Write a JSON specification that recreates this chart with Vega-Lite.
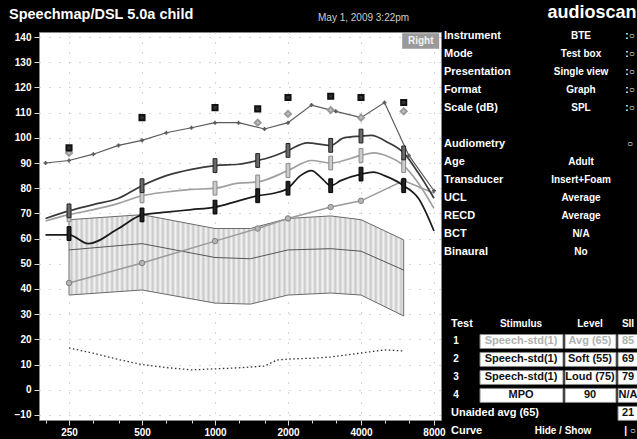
{
  "$schema": "https://vega.github.io/schema/vega-lite/v6.json",
  "background": "black",
  "padding": {"left": 8, "top": 4, "right": 0, "bottom": 0},
  "title": {"text": "audioscan", "anchor": "end", "offset": -30, "dx": -2, "baseline": "alphabetic", "fontSize": 18, "fontWeight": "bold", "color": "white", "font": "Liberation Sans"},
  "config": {"view": {"stroke": null}, "font": "Liberation Sans"},
  "spacing": 0,
  "bounds": "flush",
  "datasets": {
    "band": [
      {"f": 250, "db": 67.5, "db2": 37.6}, {"f": 500, "db": 69.5, "db2": 39.6}, {"f": 1000, "db": 64, "db2": 34.4},
      {"f": 1400, "db": 64, "db2": 34}, {"f": 2000, "db": 68, "db2": 37.6}, {"f": 3000, "db": 69, "db2": 38.4},
      {"f": 4000, "db": 67.5, "db2": 37.6}, {"f": 6000, "db": 59.5, "db2": 29.3}
    ],
    "curves": [
      {"curve": "MPO", "f": 200, "db": 90}, {"curve": "MPO", "f": 250, "db": 91}, {"curve": "MPO", "f": 315, "db": 93.5},
      {"curve": "MPO", "f": 400, "db": 97}, {"curve": "MPO", "f": 500, "db": 99}, {"curve": "MPO", "f": 630, "db": 102},
      {"curve": "MPO", "f": 800, "db": 104}, {"curve": "MPO", "f": 1000, "db": 106}, {"curve": "MPO", "f": 1250, "db": 106},
      {"curve": "MPO", "f": 1600, "db": 103.5}, {"curve": "MPO", "f": 2000, "db": 106}, {"curve": "MPO", "f": 2500, "db": 113},
      {"curve": "MPO", "f": 3150, "db": 110.5}, {"curve": "MPO", "f": 4000, "db": 108}, {"curve": "MPO", "f": 5000, "db": 114},
      {"curve": "MPO", "f": 6300, "db": 93}, {"curve": "MPO", "f": 8000, "db": 79},

      {"curve": "Loud", "f": 200, "db": 68}, {"curve": "Loud", "f": 250, "db": 71}, {"curve": "Loud", "f": 315, "db": 73.5},
      {"curve": "Loud", "f": 400, "db": 76}, {"curve": "Loud", "f": 500, "db": 81}, {"curve": "Loud", "f": 630, "db": 85},
      {"curve": "Loud", "f": 800, "db": 87.5}, {"curve": "Loud", "f": 1000, "db": 89}, {"curve": "Loud", "f": 1250, "db": 89.5},
      {"curve": "Loud", "f": 1500, "db": 91}, {"curve": "Loud", "f": 1700, "db": 92.4}, {"curve": "Loud", "f": 2000, "db": 95},
      {"curve": "Loud", "f": 2400, "db": 98}, {"curve": "Loud", "f": 3000, "db": 97}, {"curve": "Loud", "f": 3400, "db": 100},
      {"curve": "Loud", "f": 4000, "db": 100.7}, {"curve": "Loud", "f": 4400, "db": 101}, {"curve": "Loud", "f": 5200, "db": 98},
      {"curve": "Loud", "f": 6000, "db": 94}, {"curve": "Loud", "f": 6900, "db": 86}, {"curve": "Loud", "f": 8000, "db": 76},

      {"curve": "Avg", "f": 200, "db": 67}, {"curve": "Avg", "f": 250, "db": 69.5}, {"curve": "Avg", "f": 315, "db": 71.5},
      {"curve": "Avg", "f": 400, "db": 74}, {"curve": "Avg", "f": 500, "db": 77}, {"curve": "Avg", "f": 630, "db": 78.5},
      {"curve": "Avg", "f": 800, "db": 79.5}, {"curve": "Avg", "f": 1000, "db": 80}, {"curve": "Avg", "f": 1250, "db": 82},
      {"curve": "Avg", "f": 1500, "db": 82.5}, {"curve": "Avg", "f": 2000, "db": 87}, {"curve": "Avg", "f": 2500, "db": 91},
      {"curve": "Avg", "f": 3000, "db": 90}, {"curve": "Avg", "f": 4000, "db": 93}, {"curve": "Avg", "f": 4500, "db": 94},
      {"curve": "Avg", "f": 5200, "db": 92.5}, {"curve": "Avg", "f": 6000, "db": 89}, {"curve": "Avg", "f": 6900, "db": 82},
      {"curve": "Avg", "f": 8000, "db": 72},

      {"curve": "Soft", "f": 200, "db": 61.5}, {"curve": "Soft", "f": 250, "db": 61.5}, {"curve": "Soft", "f": 300, "db": 58},
      {"curve": "Soft", "f": 400, "db": 64}, {"curve": "Soft", "f": 500, "db": 69.4}, {"curve": "Soft", "f": 630, "db": 70.5},
      {"curve": "Soft", "f": 800, "db": 71.5}, {"curve": "Soft", "f": 1000, "db": 72.5}, {"curve": "Soft", "f": 1250, "db": 75},
      {"curve": "Soft", "f": 1500, "db": 77}, {"curve": "Soft", "f": 1750, "db": 78}, {"curve": "Soft", "f": 2000, "db": 80},
      {"curve": "Soft", "f": 2250, "db": 85}, {"curve": "Soft", "f": 2500, "db": 87}, {"curve": "Soft", "f": 2750, "db": 84},
      {"curve": "Soft", "f": 3000, "db": 81}, {"curve": "Soft", "f": 3300, "db": 83}, {"curve": "Soft", "f": 4000, "db": 85.6},
      {"curve": "Soft", "f": 4500, "db": 86.4}, {"curve": "Soft", "f": 5000, "db": 85}, {"curve": "Soft", "f": 6000, "db": 81},
      {"curve": "Soft", "f": 6900, "db": 76}, {"curve": "Soft", "f": 8000, "db": 63},

      {"curve": "Unaided", "f": 250, "db": 42.4}, {"curve": "Unaided", "f": 500, "db": 50.3}, {"curve": "Unaided", "f": 1000, "db": 59},
      {"curve": "Unaided", "f": 1500, "db": 64}, {"curve": "Unaided", "f": 2000, "db": 68}, {"curve": "Unaided", "f": 3000, "db": 72.5},
      {"curve": "Unaided", "f": 4000, "db": 75}, {"curve": "Unaided", "f": 6000, "db": 83}, {"curve": "Unaided", "f": 8000, "db": 78},

      {"curve": "Speech mid", "f": 250, "db": 55.5}, {"curve": "Speech mid", "f": 500, "db": 58}, {"curve": "Speech mid", "f": 1000, "db": 52.5},
      {"curve": "Speech mid", "f": 1400, "db": 52}, {"curve": "Speech mid", "f": 2000, "db": 55.5}, {"curve": "Speech mid", "f": 3000, "db": 56},
      {"curve": "Speech mid", "f": 4000, "db": 55}, {"curve": "Speech mid", "f": 6000, "db": 47.5},

      {"curve": "Threshold", "f": 250, "db": 16.6}, {"curve": "Threshold", "f": 315, "db": 14.5}, {"curve": "Threshold", "f": 400, "db": 12},
      {"curve": "Threshold", "f": 500, "db": 10}, {"curve": "Threshold", "f": 630, "db": 8.8}, {"curve": "Threshold", "f": 800, "db": 7.9},
      {"curve": "Threshold", "f": 1000, "db": 8.3}, {"curve": "Threshold", "f": 1250, "db": 8.7}, {"curve": "Threshold", "f": 1600, "db": 9.4},
      {"curve": "Threshold", "f": 1800, "db": 11.8}, {"curve": "Threshold", "f": 2000, "db": 12.2}, {"curve": "Threshold", "f": 2500, "db": 12.5},
      {"curve": "Threshold", "f": 3000, "db": 13}, {"curve": "Threshold", "f": 4000, "db": 14.6}, {"curve": "Threshold", "f": 5000, "db": 15.8},
      {"curve": "Threshold", "f": 6000, "db": 15.4}
    ],
    "targets": [
      {"curve": "Loud", "f": 250, "db": 71}, {"curve": "Loud", "f": 500, "db": 81}, {"curve": "Loud", "f": 1000, "db": 89}, {"curve": "Loud", "f": 1500, "db": 91},
      {"curve": "Loud", "f": 2000, "db": 95}, {"curve": "Loud", "f": 3000, "db": 97}, {"curve": "Loud", "f": 4000, "db": 100.7}, {"curve": "Loud", "f": 6000, "db": 94},
      {"curve": "Avg", "f": 250, "db": 69.5}, {"curve": "Avg", "f": 500, "db": 77}, {"curve": "Avg", "f": 1000, "db": 80}, {"curve": "Avg", "f": 1500, "db": 82.5},
      {"curve": "Avg", "f": 2000, "db": 87}, {"curve": "Avg", "f": 3000, "db": 90}, {"curve": "Avg", "f": 4000, "db": 93}, {"curve": "Avg", "f": 6000, "db": 89},
      {"curve": "Soft", "f": 250, "db": 62}, {"curve": "Soft", "f": 500, "db": 69.4}, {"curve": "Soft", "f": 1000, "db": 72.5}, {"curve": "Soft", "f": 1500, "db": 77},
      {"curve": "Soft", "f": 2000, "db": 80}, {"curve": "Soft", "f": 3000, "db": 81}, {"curve": "Soft", "f": 4000, "db": 85.6}, {"curve": "Soft", "f": 6000, "db": 81}
    ],
    "ucl": [
      {"kind": "UCL", "f": 250, "db": 96}, {"kind": "UCL", "f": 500, "db": 108}, {"kind": "UCL", "f": 1000, "db": 112}, {"kind": "UCL", "f": 1500, "db": 111.5},
      {"kind": "UCL", "f": 2000, "db": 116}, {"kind": "UCL", "f": 3000, "db": 116.5}, {"kind": "UCL", "f": 4000, "db": 116}, {"kind": "UCL", "f": 6000, "db": 114},
      {"kind": "MPO target", "f": 250, "db": 94}, {"kind": "MPO target", "f": 1500, "db": 106}, {"kind": "MPO target", "f": 2000, "db": 109.5},
      {"kind": "MPO target", "f": 3000, "db": 111}, {"kind": "MPO target", "f": 4000, "db": 108}, {"kind": "MPO target", "f": 6000, "db": 110.5}
    ],
    "ear": [{"ear": "Right", "f": 7050, "db": 138.4}],
    "panel": [
      {"r": 1, "c": 0, "t": "Instrument", "k": "txt"}, {"r": 1, "c": 1, "t": "BTE", "k": "txt"}, {"r": 1, "c": 2, "t": ":○", "k": "txt"},
      {"r": 2, "c": 0, "t": "Mode", "k": "txt"}, {"r": 2, "c": 1, "t": "Test box", "k": "txt"}, {"r": 2, "c": 2, "t": ":○", "k": "txt"},
      {"r": 3, "c": 0, "t": "Presentation", "k": "txt"}, {"r": 3, "c": 1, "t": "Single view", "k": "txt"}, {"r": 3, "c": 2, "t": ":○", "k": "txt"},
      {"r": 4, "c": 0, "t": "Format", "k": "txt"}, {"r": 4, "c": 1, "t": "Graph", "k": "txt"}, {"r": 4, "c": 2, "t": ":○", "k": "txt"},
      {"r": 5, "c": 0, "t": "Scale (dB)", "k": "txt"}, {"r": 5, "c": 1, "t": "SPL", "k": "txt"}, {"r": 5, "c": 2, "t": ":○", "k": "txt"},
      {"r": 7, "c": 0, "t": "Audiometry", "k": "txt"}, {"r": 7, "c": 2, "t": " ○", "k": "txt"},
      {"r": 8, "c": 0, "t": "Age", "k": "txt"}, {"r": 8, "c": 1, "t": "Adult", "k": "txt"},
      {"r": 9, "c": 0, "t": "Transducer", "k": "txt"}, {"r": 9, "c": 1, "t": "Insert+Foam", "k": "txt"},
      {"r": 10, "c": 0, "t": "UCL", "k": "txt"}, {"r": 10, "c": 1, "t": "Average", "k": "txt"},
      {"r": 11, "c": 0, "t": "RECD", "k": "txt"}, {"r": 11, "c": 1, "t": "Average", "k": "txt"},
      {"r": 12, "c": 0, "t": "BCT", "k": "txt"}, {"r": 12, "c": 1, "t": "N/A", "k": "txt"},
      {"r": 13, "c": 0, "t": "Binaural", "k": "txt"}, {"r": 13, "c": 1, "t": "No", "k": "txt"},
      {"r": 17, "c": 7, "t": "Test", "k": "txt"}, {"r": 17, "c": 4, "t": "Stimulus", "k": "txt"}, {"r": 17, "c": 5, "t": "Level", "k": "txt"}, {"r": 17, "c": 6, "t": "SII", "k": "txt"},
      {"r": 18, "c": 3, "t": "1", "k": "txt"}, {"r": 18, "c": 4, "t": "Speech-std(1)", "k": "off"}, {"r": 18, "c": 5, "t": "Avg (65)", "k": "off"}, {"r": 18, "c": 6, "t": "85", "k": "off"},
      {"r": 19, "c": 3, "t": "2", "k": "txt"}, {"r": 19, "c": 4, "t": "Speech-std(1)", "k": "cell"}, {"r": 19, "c": 5, "t": "Soft (55)", "k": "cell"}, {"r": 19, "c": 6, "t": "69", "k": "cell"},
      {"r": 20, "c": 3, "t": "3", "k": "txt"}, {"r": 20, "c": 4, "t": "Speech-std(1)", "k": "cell"}, {"r": 20, "c": 5, "t": "Loud (75)", "k": "cell"}, {"r": 20, "c": 6, "t": "79", "k": "cell"},
      {"r": 21, "c": 3, "t": "4", "k": "txt"}, {"r": 21, "c": 4, "t": "MPO", "k": "cell"}, {"r": 21, "c": 5, "t": "90", "k": "cell"}, {"r": 21, "c": 6, "t": "N/A", "k": "cell"},
      {"r": 22, "c": 7, "t": "Unaided avg (65)", "k": "txt"}, {"r": 22, "c": 6, "t": "21", "k": "cell"},
      {"r": 23, "c": 7, "t": "Curve", "k": "txt"}, {"r": 23, "c": 8, "t": "Hide / Show", "k": "txt"}, {"r": 23, "c": 2, "t": "| ○", "k": "txt"}
    ],
    "boxes": [
      {"r": 18, "c0": 9, "c1": 10}, {"r": 18, "c0": 11, "c1": 12}, {"r": 18, "c0": 13, "c1": 14},
      {"r": 19, "c0": 9, "c1": 10}, {"r": 19, "c0": 11, "c1": 12}, {"r": 19, "c0": 13, "c1": 14},
      {"r": 20, "c0": 9, "c1": 10}, {"r": 20, "c0": 11, "c1": 12}, {"r": 20, "c0": 13, "c1": 14},
      {"r": 21, "c0": 9, "c1": 10}, {"r": 21, "c0": 11, "c1": 12}, {"r": 21, "c0": 13, "c1": 14},
      {"r": 22, "c0": 13, "c1": 14}
    ]
  },
  "hconcat": [
    {
      "width": 402,
      "height": 388,
      "view": {"fill": "white", "stroke": "#888"},
      "title": {"text": "Speechmap/DSL 5.0a child", "anchor": "start", "frame": "group", "dx": -30, "offset": -1, "baseline": "alphabetic", "fontSize": 14.5, "fontWeight": "bold", "color": "white", "font": "Liberation Sans"},
      "encoding": {
        "x": {
          "field": "f", "type": "quantitative", "title": null,
          "scale": {"type": "log", "domain": [188, 8550], "nice": false},
          "axis": {
            "values": [200, 250, 315, 400, 500, 630, 800, 1000, 1250, 1600, 2000, 2500, 3150, 4000, 5000, 6300, 8000],
            "labelExpr": "indexof([250,500,1000,2000,4000,8000], datum.value) >= 0 ? format(datum.value, 'd') : ''",
            "labelOverlap": false, "labelFlush": false, "labelBound": false,
            "labelColor": "white", "labelFontSize": 10, "labelFontWeight": "bold", "labelFont": "Liberation Sans", "labelPadding": 2,
            "tickColor": "#dddddd",
            "tickSize": {"condition": {"test": "indexof([250,500,1000,2000,4000,8000], datum.value) >= 0", "value": 5}, "value": 3},
            "domain": false, "grid": true, "gridColor": "#aaaaaa", "gridDash": [1, 9],
            "gridOpacity": {"condition": {"test": "indexof([250,500,1000,2000,4000,8000], datum.value) >= 0", "value": 1}, "value": 0}
          }
        },
        "y": {
          "field": "db", "type": "quantitative", "title": null,
          "scale": {"domain": [-12, 142], "nice": false, "zero": false},
          "axis": {
            "values": [-10, 0, 10, 20, 30, 40, 50, 60, 70, 80, 90, 100, 110, 120, 130, 140],
            "labelColor": "white", "labelFontSize": 10, "labelFontWeight": "bold", "labelFont": "Liberation Sans", "labelPadding": 3,
            "tickColor": "#dddddd", "tickSize": 5, "domain": false,
            "grid": true, "gridColor": "#aaaaaa", "gridDash": [1, 9]
          }
        }
      },
      "layer": [
        {"data": {"name": "band"}, "mark": {"type": "area", "stroke": "#6a6a6a", "strokeWidth": 1,
          "fill": {"gradient": "linear", "x1": 0, "x2": 1, "y1": 0, "y2": 0, "stops": [
            {"offset": 0, "color": "#f4f4f4"}, {"offset": 0.0076, "color": "#c8c8c8"}, {"offset": 0.0152, "color": "#f4f4f4"}, {"offset": 0.0227, "color": "#c8c8c8"},
            {"offset": 0.0303, "color": "#f4f4f4"}, {"offset": 0.0379, "color": "#c8c8c8"}, {"offset": 0.0455, "color": "#f4f4f4"}, {"offset": 0.0530, "color": "#c8c8c8"},
            {"offset": 0.0606, "color": "#f4f4f4"}, {"offset": 0.0682, "color": "#c8c8c8"}, {"offset": 0.0758, "color": "#f4f4f4"}, {"offset": 0.0833, "color": "#c8c8c8"},
            {"offset": 0.0909, "color": "#f4f4f4"}, {"offset": 0.0985, "color": "#c8c8c8"}, {"offset": 0.1061, "color": "#f4f4f4"}, {"offset": 0.1136, "color": "#c8c8c8"},
            {"offset": 0.1212, "color": "#f4f4f4"}, {"offset": 0.1288, "color": "#c8c8c8"}, {"offset": 0.1364, "color": "#f4f4f4"}, {"offset": 0.1439, "color": "#c8c8c8"},
            {"offset": 0.1515, "color": "#f4f4f4"}, {"offset": 0.1591, "color": "#c8c8c8"}, {"offset": 0.1667, "color": "#f4f4f4"}, {"offset": 0.1742, "color": "#c8c8c8"},
            {"offset": 0.1818, "color": "#f4f4f4"}, {"offset": 0.1894, "color": "#c8c8c8"}, {"offset": 0.1970, "color": "#f4f4f4"}, {"offset": 0.2045, "color": "#c8c8c8"},
            {"offset": 0.2121, "color": "#f4f4f4"}, {"offset": 0.2197, "color": "#c8c8c8"}, {"offset": 0.2273, "color": "#f4f4f4"}, {"offset": 0.2348, "color": "#c8c8c8"},
            {"offset": 0.2424, "color": "#f4f4f4"}, {"offset": 0.2500, "color": "#c8c8c8"}, {"offset": 0.2576, "color": "#f4f4f4"}, {"offset": 0.2652, "color": "#c8c8c8"},
            {"offset": 0.2727, "color": "#f4f4f4"}, {"offset": 0.2803, "color": "#c8c8c8"}, {"offset": 0.2879, "color": "#f4f4f4"}, {"offset": 0.2955, "color": "#c8c8c8"},
            {"offset": 0.3030, "color": "#f4f4f4"}, {"offset": 0.3106, "color": "#c8c8c8"}, {"offset": 0.3182, "color": "#f4f4f4"}, {"offset": 0.3258, "color": "#c8c8c8"},
            {"offset": 0.3333, "color": "#f4f4f4"}, {"offset": 0.3409, "color": "#c8c8c8"}, {"offset": 0.3485, "color": "#f4f4f4"}, {"offset": 0.3561, "color": "#c8c8c8"},
            {"offset": 0.3636, "color": "#f4f4f4"}, {"offset": 0.3712, "color": "#c8c8c8"}, {"offset": 0.3788, "color": "#f4f4f4"}, {"offset": 0.3864, "color": "#c8c8c8"},
            {"offset": 0.3939, "color": "#f4f4f4"}, {"offset": 0.4015, "color": "#c8c8c8"}, {"offset": 0.4091, "color": "#f4f4f4"}, {"offset": 0.4167, "color": "#c8c8c8"},
            {"offset": 0.4242, "color": "#f4f4f4"}, {"offset": 0.4318, "color": "#c8c8c8"}, {"offset": 0.4394, "color": "#f4f4f4"}, {"offset": 0.4470, "color": "#c8c8c8"},
            {"offset": 0.4545, "color": "#f4f4f4"}, {"offset": 0.4621, "color": "#c8c8c8"}, {"offset": 0.4697, "color": "#f4f4f4"}, {"offset": 0.4773, "color": "#c8c8c8"},
            {"offset": 0.4848, "color": "#f4f4f4"}, {"offset": 0.4924, "color": "#c8c8c8"}, {"offset": 0.5000, "color": "#f4f4f4"}, {"offset": 0.5076, "color": "#c8c8c8"},
            {"offset": 0.5152, "color": "#f4f4f4"}, {"offset": 0.5227, "color": "#c8c8c8"}, {"offset": 0.5303, "color": "#f4f4f4"}, {"offset": 0.5379, "color": "#c8c8c8"},
            {"offset": 0.5455, "color": "#f4f4f4"}, {"offset": 0.5530, "color": "#c8c8c8"}, {"offset": 0.5606, "color": "#f4f4f4"}, {"offset": 0.5682, "color": "#c8c8c8"},
            {"offset": 0.5758, "color": "#f4f4f4"}, {"offset": 0.5833, "color": "#c8c8c8"}, {"offset": 0.5909, "color": "#f4f4f4"}, {"offset": 0.5985, "color": "#c8c8c8"},
            {"offset": 0.6061, "color": "#f4f4f4"}, {"offset": 0.6136, "color": "#c8c8c8"}, {"offset": 0.6212, "color": "#f4f4f4"}, {"offset": 0.6288, "color": "#c8c8c8"},
            {"offset": 0.6364, "color": "#f4f4f4"}, {"offset": 0.6439, "color": "#c8c8c8"}, {"offset": 0.6515, "color": "#f4f4f4"}, {"offset": 0.6591, "color": "#c8c8c8"},
            {"offset": 0.6667, "color": "#f4f4f4"}, {"offset": 0.6742, "color": "#c8c8c8"}, {"offset": 0.6818, "color": "#f4f4f4"}, {"offset": 0.6894, "color": "#c8c8c8"},
            {"offset": 0.6970, "color": "#f4f4f4"}, {"offset": 0.7045, "color": "#c8c8c8"}, {"offset": 0.7121, "color": "#f4f4f4"}, {"offset": 0.7197, "color": "#c8c8c8"},
            {"offset": 0.7273, "color": "#f4f4f4"}, {"offset": 0.7348, "color": "#c8c8c8"}, {"offset": 0.7424, "color": "#f4f4f4"}, {"offset": 0.7500, "color": "#c8c8c8"},
            {"offset": 0.7576, "color": "#f4f4f4"}, {"offset": 0.7652, "color": "#c8c8c8"}, {"offset": 0.7727, "color": "#f4f4f4"}, {"offset": 0.7803, "color": "#c8c8c8"},
            {"offset": 0.7879, "color": "#f4f4f4"}, {"offset": 0.7955, "color": "#c8c8c8"}, {"offset": 0.8030, "color": "#f4f4f4"}, {"offset": 0.8106, "color": "#c8c8c8"},
            {"offset": 0.8182, "color": "#f4f4f4"}, {"offset": 0.8258, "color": "#c8c8c8"}, {"offset": 0.8333, "color": "#f4f4f4"}, {"offset": 0.8409, "color": "#c8c8c8"},
            {"offset": 0.8485, "color": "#f4f4f4"}, {"offset": 0.8561, "color": "#c8c8c8"}, {"offset": 0.8636, "color": "#f4f4f4"}, {"offset": 0.8712, "color": "#c8c8c8"},
            {"offset": 0.8788, "color": "#f4f4f4"}, {"offset": 0.8864, "color": "#c8c8c8"}, {"offset": 0.8939, "color": "#f4f4f4"}, {"offset": 0.9015, "color": "#c8c8c8"},
            {"offset": 0.9091, "color": "#f4f4f4"}, {"offset": 0.9167, "color": "#c8c8c8"}, {"offset": 0.9242, "color": "#f4f4f4"}, {"offset": 0.9318, "color": "#c8c8c8"},
            {"offset": 0.9394, "color": "#f4f4f4"}, {"offset": 0.9470, "color": "#c8c8c8"}, {"offset": 0.9545, "color": "#f4f4f4"}, {"offset": 0.9621, "color": "#c8c8c8"},
            {"offset": 0.9697, "color": "#f4f4f4"}, {"offset": 0.9773, "color": "#c8c8c8"}, {"offset": 0.9848, "color": "#f4f4f4"}, {"offset": 0.9924, "color": "#c8c8c8"},
            {"offset": 1, "color": "#f4f4f4"}
          ]}},
          "encoding": {"y2": {"field": "db2"}}},
        {"data": {"name": "curves"}, "transform": [{"filter": "datum.curve == 'Speech mid'"}], "mark": {"type": "line", "color": "#555555", "strokeWidth": 1}},
        {"data": {"name": "curves"}, "transform": [{"filter": "datum.curve == 'Threshold'"}], "mark": {"type": "line", "color": "#333333", "strokeWidth": 1.3, "strokeDash": [1.5, 2.5]}},
        {"data": {"name": "curves"}, "transform": [{"filter": "datum.curve == 'Unaided'"}], "mark": {"type": "line", "color": "#9a9a9a", "strokeWidth": 1.5}},
        {"data": {"name": "curves"}, "transform": [{"filter": "datum.curve == 'Unaided' && datum.f < 7000"}], "mark": {"type": "point", "shape": "circle", "filled": true, "fill": "#b5b5b5", "stroke": "#808080", "strokeWidth": 1, "size": 30, "opacity": 1}},
        {"data": {"name": "curves"}, "transform": [{"filter": "datum.curve == 'Soft'"}], "mark": {"type": "line", "color": "#1a1a1a", "strokeWidth": 1.7, "interpolate": "monotone"}},
        {"data": {"name": "curves"}, "transform": [{"filter": "datum.curve == 'Avg'"}], "mark": {"type": "line", "color": "#a0a0a0", "strokeWidth": 1.7, "interpolate": "monotone"}},
        {"data": {"name": "curves"}, "transform": [{"filter": "datum.curve == 'Loud'"}], "mark": {"type": "line", "color": "#3a3a3a", "strokeWidth": 1.7, "interpolate": "monotone"}},
        {"data": {"name": "curves"}, "transform": [{"filter": "datum.curve == 'MPO'"}], "mark": {"type": "line", "color": "#5a5a5a", "strokeWidth": 1.2}},
        {"data": {"name": "curves"}, "transform": [{"filter": "datum.curve == 'MPO'"}], "mark": {"type": "point", "shape": "cross", "filled": true, "color": "#5a5a5a", "size": 16, "opacity": 1}},
        {"data": {"name": "targets"}, "transform": [{"filter": "datum.curve == 'Avg'"}], "mark": {"type": "point", "shape": "M-0.28,-1L0.28,-1L0.28,1L-0.28,1Z", "filled": true, "fill": "#cccccc", "stroke": "#8a8a8a", "strokeWidth": 1, "size": 190, "opacity": 1}},
        {"data": {"name": "targets"}, "transform": [{"filter": "datum.curve == 'Loud'"}], "mark": {"type": "point", "shape": "M-0.28,-1L0.28,-1L0.28,1L-0.28,1Z", "filled": true, "fill": "#6a6a6a", "stroke": "#222222", "strokeWidth": 1, "size": 190, "opacity": 1}},
        {"data": {"name": "targets"}, "transform": [{"filter": "datum.curve == 'Soft'"}], "mark": {"type": "point", "shape": "M-0.28,-1L0.28,-1L0.28,1L-0.28,1Z", "filled": true, "fill": "#222222", "stroke": "#000000", "strokeWidth": 1, "size": 190, "opacity": 1}},
        {"data": {"name": "ucl"}, "transform": [{"filter": "datum.kind == 'MPO target'"}], "mark": {"type": "point", "shape": "diamond", "filled": true, "fill": "#c4c4c4", "stroke": "#999999", "size": 36, "opacity": 1}},
        {"data": {"name": "ucl"}, "transform": [{"filter": "datum.kind == 'UCL'"}], "mark": {"type": "point", "shape": "square", "filled": true, "fill": "#333333", "stroke": "#111111", "size": 26, "opacity": 1}},
        {"data": {"name": "ear"}, "mark": {"type": "point", "shape": "M-1,-0.42L1,-0.42L1,0.42L-1,0.42Z", "filled": true, "fill": "#9a9a9a", "strokeWidth": 0, "size": 1369, "opacity": 1}},
        {"data": {"name": "ear"}, "mark": {"type": "text", "color": "#f2f2f2", "fontSize": 10, "fontWeight": "bold", "font": "Liberation Sans", "align": "center", "baseline": "middle"}, "encoding": {"text": {"field": "ear"}}}
      ]
    },
    {
      "width": 197,
      "height": 410,
      "view": {"fill": null, "stroke": null},
      "title": {"text": "May 1, 2009 3:22pm", "anchor": "start", "frame": "group", "dx": -123, "offset": -1, "baseline": "alphabetic", "fontSize": 10, "fontWeight": "normal", "color": "#cfcfcf", "font": "Liberation Sans"},
      "layer": [
        {
          "data": {"name": "boxes"},
          "mark": {"type": "bar", "size": 14, "fill": "white", "stroke": "#888888", "strokeWidth": 1},
          "encoding": {
            "x": {"field": "c0", "type": "quantitative", "axis": null, "scale": {"domain": [0,1,2,3,4,5,6,7,8,9,10,11,12,13,14], "range": [3,140,189,15,80,149,187,10,122,39,122,124,175,177,197], "zero": false, "nice": false}},
            "x2": {"field": "c1"},
            "y": {"field": "r", "type": "quantitative", "axis": null, "scale": {"domain": [1.063, 23.313], "reverse": true, "zero": false, "nice": false}}
          }
        },
        {
          "data": {"name": "panel"},
          "transform": [{"filter": "datum.k == 'txt' && (datum.c == 0 || datum.c == 7)"}],
          "mark": {"type": "text", "align": "left", "baseline": "middle", "color": "white", "fontSize": 11, "fontWeight": "bold", "font": "Liberation Sans, DejaVu Sans"},
          "encoding": {
            "x": {"field": "c", "type": "quantitative", "axis": null, "scale": {"domain": [0,1,2,3,4,5,6,7,8,9,10,11,12,13,14], "range": [3,140,189,15,80,149,187,10,122,39,122,124,175,177,197], "zero": false, "nice": false}},
            "y": {"field": "r", "type": "quantitative", "axis": null, "scale": {"domain": [1.063, 23.313], "reverse": true, "zero": false, "nice": false}},
            "text": {"field": "t"}
          }
        },
        {
          "data": {"name": "panel"},
          "transform": [{"filter": "datum.k == 'txt' && datum.c != 0 && datum.c != 7"}],
          "mark": {"type": "text", "align": "center", "baseline": "middle", "color": "white", "fontSize": 10, "fontWeight": "bold", "font": "Liberation Sans, DejaVu Sans"},
          "encoding": {
            "x": {"field": "c", "type": "quantitative", "axis": null, "scale": {"domain": [0,1,2,3,4,5,6,7,8,9,10,11,12,13,14], "range": [3,140,189,15,80,149,187,10,122,39,122,124,175,177,197], "zero": false, "nice": false}},
            "y": {"field": "r", "type": "quantitative", "axis": null, "scale": {"domain": [1.063, 23.313], "reverse": true, "zero": false, "nice": false}},
            "text": {"field": "t"}
          }
        },
        {
          "data": {"name": "panel"},
          "transform": [{"filter": "datum.k == 'cell'"}],
          "mark": {"type": "text", "align": "center", "baseline": "middle", "color": "#111111", "fontSize": 11, "fontWeight": "bold", "font": "Liberation Sans, DejaVu Sans"},
          "encoding": {
            "x": {"field": "c", "type": "quantitative", "axis": null, "scale": {"domain": [0,1,2,3,4,5,6,7,8,9,10,11,12,13,14], "range": [3,140,189,15,80,149,187,10,122,39,122,124,175,177,197], "zero": false, "nice": false}},
            "y": {"field": "r", "type": "quantitative", "axis": null, "scale": {"domain": [1.063, 23.313], "reverse": true, "zero": false, "nice": false}},
            "text": {"field": "t"}
          }
        },
        {
          "data": {"name": "panel"},
          "transform": [{"filter": "datum.k == 'off'"}],
          "mark": {"type": "text", "align": "center", "baseline": "middle", "color": "#b0b0b0", "fontSize": 11, "fontWeight": "bold", "font": "Liberation Sans, DejaVu Sans"},
          "encoding": {
            "x": {"field": "c", "type": "quantitative", "axis": null, "scale": {"domain": [0,1,2,3,4,5,6,7,8,9,10,11,12,13,14], "range": [3,140,189,15,80,149,187,10,122,39,122,124,175,177,197], "zero": false, "nice": false}},
            "y": {"field": "r", "type": "quantitative", "axis": null, "scale": {"domain": [1.063, 23.313], "reverse": true, "zero": false, "nice": false}},
            "text": {"field": "t"}
          }
        }
      ]
    }
  ]
}
